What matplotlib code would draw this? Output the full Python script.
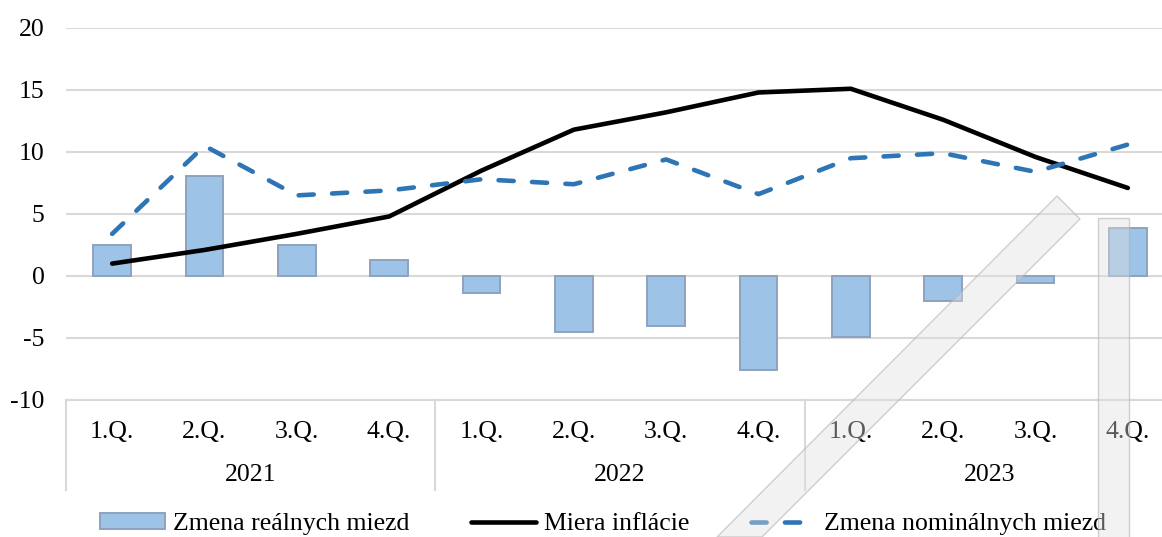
import matplotlib
matplotlib.use("Agg")
import matplotlib.pyplot as plt
from matplotlib.patches import Polygon
from matplotlib.lines import Line2D
import matplotlib.transforms as mtransforms

quarters = ["1.Q.", "2.Q.", "3.Q.", "4.Q."] * 3
years = ["2021", "2022", "2023"]
real_wages = [2.5, 8.1, 2.5, 1.3, -1.4, -4.5, -4.0, -7.6, -4.9, -2.0, -0.6, 3.9]
inflation = [1.0, 2.1, 3.4, 4.8, 8.5, 11.8, 13.2, 14.8, 15.1, 12.6, 9.6, 7.1]
nominal_wages = [3.4, 10.5, 6.5, 6.9, 7.8, 7.4, 9.4, 6.6, 9.5, 9.9, 8.4, 10.6]
yticks = [-10, -5, 0, 5, 10, 15, 20]

W, H = 1162, 537
FS = 18.5
plt.rcParams['font.family'] = ['Liberation Serif', 'DejaVu Serif']
fig = plt.figure(figsize=(W / 100, H / 100), dpi=100)

left_px, right_px, top_px, bot_px = 66, 1174, 28, 400
ax = fig.add_axes([left_px / W, 1 - bot_px / H, (right_px - left_px) / W, (bot_px - top_px) / H])

x = list(range(len(quarters)))
hb = ax.bar(x, real_wages, width=0.41, color="#9DC3E6", edgecolor="#8EA2BF", linewidth=1.4,
            label="Zmena reálnych miezd", zorder=3)
hl, = ax.plot(x, inflation, color="black", linewidth=3.3, solid_capstyle="round",
              label="Miera inflácie", zorder=4)
hd, = ax.plot(x, nominal_wages, color="#2E75B6", linewidth=3.3, dashes=(3.3, 4.0),
              dash_capstyle="round", label="Zmena nominálnych miezd", zorder=4)

ax.set_xlim(-0.5, len(quarters) - 0.5)
ax.set_ylim(-10, 20)
ax.set_yticks(yticks)
ax.set_yticklabels([str(v) for v in yticks], fontsize=FS)
ax.grid(axis="y", color="#D9D9D9", linewidth=1.5, zorder=0)
for s in ["top", "right", "left"]:
    ax.spines[s].set_visible(False)
ax.spines["bottom"].set_color("#D9D9D9")
ax.spines["bottom"].set_linewidth(1.5)
ax.tick_params(axis="y", length=0, pad=15.5)
ax.set_xticks(x)
ax.set_xticklabels(quarters, fontsize=FS)
ax.tick_params(axis="x", length=0, pad=15)

# year group labels and separators
trans = mtransforms.blended_transform_factory(ax.transData, ax.transAxes)
axh = bot_px - top_px
for i, yr in enumerate(years):
    ax.text(4 * i + 1.5, -(475 - bot_px) / axh, yr, transform=trans, ha="center", va="center",
            fontsize=FS)
for b in [-0.5, 3.5, 7.5, 11.5]:
    ax.add_line(Line2D([b, b], [0, -(490 - bot_px) / axh], transform=trans, color="#D9D9D9",
                       linewidth=1.5, clip_on=False))

fig.legend([hb, hl, hd], ["Zmena reálnych miezd", "Miera inflácie", "Zmena nominálnych miezd"],
           loc="center", bbox_to_anchor=(0.519, 1 - 524 / H), ncol=3, frameon=False,
           fontsize=FS, handlelength=2.55, handletextpad=0.3, columnspacing=2.4,
           handleheight=0.6)

# watermark overlay
def px(pts):
    return [(a / W, 1 - b / H) for a, b in pts]

for pts in [[(1057, 196), (1080, 219), (762, 537), (717, 537)],
            [(1098, 218), (1129, 218), (1129, 540), (1098, 540)]]:
    fig.add_artist(Polygon(px(pts), closed=True, transform=fig.transFigure,
                           facecolor=(0.88, 0.88, 0.88, 0.4),
                           edgecolor=(0.7, 0.7, 0.7, 0.6), linewidth=1.0, zorder=10))

fig.savefig("out.png", dpi=100)
